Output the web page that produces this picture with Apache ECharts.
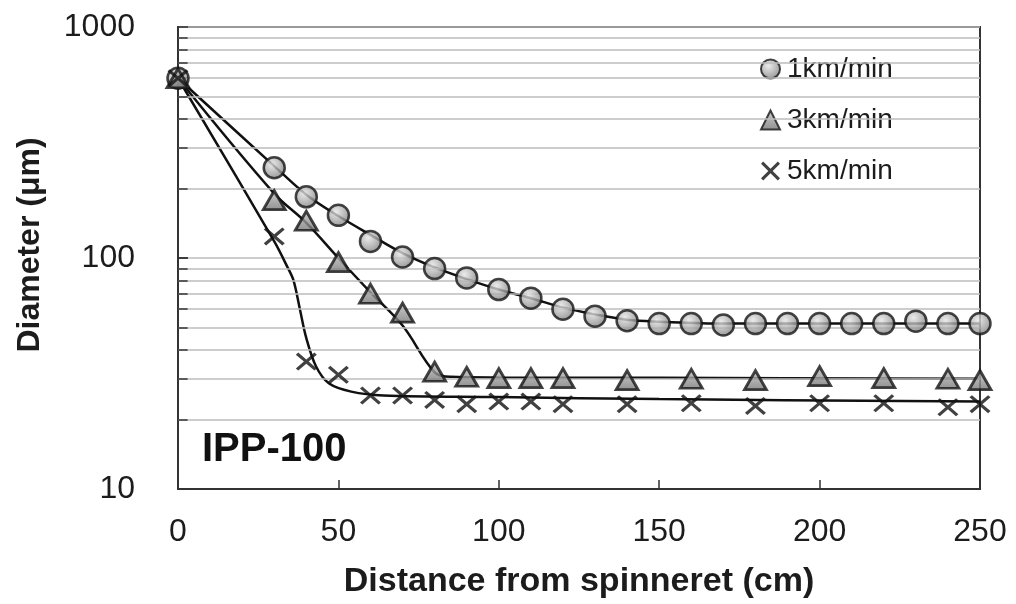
<!DOCTYPE html>
<html>
<head>
<meta charset="utf-8">
<script src="https://cdn.jsdelivr.net/npm/echarts@6/dist/echarts.min.js"></script>
<style>
html,body{margin:0;padding:0;background:#fff;}
#chart{width:1016px;height:604px;}
</style>
</head>
<body>
<div id="chart"></div>
<script>
// ---- data ----
const x1 = [0,30,40,50,60,70,80,90,100,110,120,130,140,150,160,170,180,190,200,210,220,230,240,250];
const y1 = [600,246,184,153,118,101,90,82,73,67,60,56,53.5,52,52,51.3,52,52,52,52,52,53.3,52,52];

const x3 = [0,30,40,50,60,70,80,90,100,110,120,140,160,180,200,220,240,250];
const y3 = [600,178,145,96,70,58,32.2,30.6,30.2,30.2,30.2,29.6,30,29.6,30.8,30.2,30,29.6];

const x5 = [0,30,40,50,60,70,80,90,100,110,120,140,160,180,200,220,240,250];
const y5 = [600,124,35.6,31.2,25.4,25.4,24.3,23.3,23.9,23.9,23.3,23.3,23.5,22.9,23.5,23.5,22.6,23.3];

// fitted curves as drawn in the reference
const fit1X = [0,30,40,50,60,70,80,90,100,110,120,130,140,150,170,250];
const fit1Y = [600,250,188,152,126,105,91,81,73,67,61,57,54,53,52,52];
const fit3X = [0,30,40,50,60,70,80,85,100,150,250];
const fit3Y = [600,190,142,100,71,51,32,30.6,30.4,30.3,30];
const fit5X = [0,30,34,36,38,40,43,47,54,64,100,150,250];
const fit5Y = [600,118,92,80,60,45,34,28.7,26.4,25.4,25,24.5,23.9];

const seriesNames = ['1km/min','3km/min','5km/min'];
const gridValues = [20,30,40,50,60,70,80,90,200,300,400,500,600,700,800,900];
const xTicks = [0,50,100,150,200,250];
const yTicks = [10,100,1000];
const panelLabel = 'IPP-100';

const pair = (xs, ys) => xs.map((x,i)=>[x, ys[i]]);
const FONT = '"Liberation Sans", Arial, sans-serif';
const INK = '#1c1c1c';

const gridLines = gridValues.map(v => ({yAxis: v}));
const minorTicks = gridValues.concat([100]).map(v => [{coord:[0,v]},{coord:[3,v]}]);

const CROSS = 'path://M0,2.3L2.3,0L10,7.7L17.7,0L20,2.3L12.3,10L20,17.7L17.7,20L10,12.3L2.3,20L0,17.7L7.7,10Z';

const chart = echarts.init(document.getElementById('chart'), null, {renderer:'canvas'});

const fitLine = (xs, ys) => ({
  type:'line', data: pair(xs, ys), showSymbol:false, symbol:'none', smooth:0.35,
  lineStyle:{color:'#111', width:2.5}, z:3, silent:true, animation:false
});

chart.setOption({
  animation:false,
  backgroundColor:'#fff',
  grid:{left:178, right:36, top:27, bottom:115, show:true, borderColor:'#333', borderWidth:2, backgroundColor:'transparent'},
  xAxis:{
    type:'value', min:0, max:250, interval:50,
    axisLine:{lineStyle:{color:'#333', width:2}},
    axisTick:{inside:true, length:9, lineStyle:{color:'#333', width:1.5}},
    splitLine:{show:false},
    axisLabel:{color:INK, fontSize:32, fontFamily:FONT, margin:27,
      formatter: v => xTicks.includes(v) ? String(v) : ''},
    name:'Distance from spinneret (cm)', nameLocation:'middle', nameGap:76,
    nameTextStyle:{color:INK, fontSize:34, fontWeight:'bold', fontFamily:FONT}
  },
  yAxis:{
    type:'log', logBase:10, min:10, max:1000, splitNumber:2,
    axisLine:{lineStyle:{color:'#333', width:2}},
    axisTick:{inside:true, length:10, lineStyle:{color:'#333', width:1.5}},
    splitLine:{show:true, lineStyle:{color:'#bdbdbd', width:1.5}},
    axisLabel:{color:INK, fontSize:32, fontFamily:FONT, margin:43,
      formatter: v => yTicks.includes(Math.round(v)) ? String(Math.round(v)) : ''},
    name:'Diameter (μm)', nameLocation:'middle', nameGap:132, nameRotate:90,
    nameTextStyle:{color:INK, fontSize:32, fontWeight:'bold', fontFamily:FONT, padding:[0,0,0,26]}
  },
  legend:{
    orient:'vertical', left:755, top:50, itemGap:23, itemWidth:19, itemHeight:19,
    data: seriesNames,
    textStyle:{color:INK, fontSize:28, fontFamily:FONT, lineHeight:28, padding:[0,0,0,2]}
  },
  graphic:[{
    type:'text', left:202, top:430, silent:true,
    style:{text:panelLabel, fill:'#111', font:'bold 40px "Liberation Sans", Arial, sans-serif'}
  }],
  series:[
    {
      type:'line', data:[], silent:true, z:1, symbol:'none',
      markLine:{silent:true, symbol:'none', label:{show:false}, animation:false,
        lineStyle:{color:'#bdbdbd', width:1.5, type:'solid'}, data: gridLines}
    },
    {
      type:'line', data:[], silent:true, z:4, symbol:'none',
      markLine:{silent:true, symbol:'none', label:{show:false}, animation:false,
        lineStyle:{color:'#333', width:1.5, type:'solid'}, data: minorTicks}
    },
    fitLine(fit1X, fit1Y),
    fitLine(fit3X, fit3Y),
    fitLine(fit5X, fit5Y),
    {
      name:seriesNames[0], type:'scatter', data:pair(x1,y1), symbol:'circle', symbolSize:21, z:5, clip:false,
      itemStyle:{
        color:{type:'radial', x:0.4, y:0.35, r:0.75, colorStops:[{offset:0,color:'#e6e6e6'},{offset:1,color:'#6e6e6e'}]},
        borderColor:'#151515', borderWidth:2.5
      }
    },
    {
      name:seriesNames[1], type:'scatter', data:pair(x3,y3), symbol:'triangle', symbolSize:[22,19], z:5, clip:false,
      itemStyle:{
        color:{type:'linear', x:0, y:0, x2:0, y2:1, colorStops:[{offset:0,color:'#c4c4c4'},{offset:1,color:'#747474'}]},
        borderColor:'#151515', borderWidth:2.8
      }
    },
    {
      name:seriesNames[2], type:'scatter', data:pair(x5,y5), symbol:CROSS, symbolSize:[21,18], z:5, clip:false,
      itemStyle:{color:'#111', borderWidth:0}
    }
  ]
});
</script>
</body>
</html>
